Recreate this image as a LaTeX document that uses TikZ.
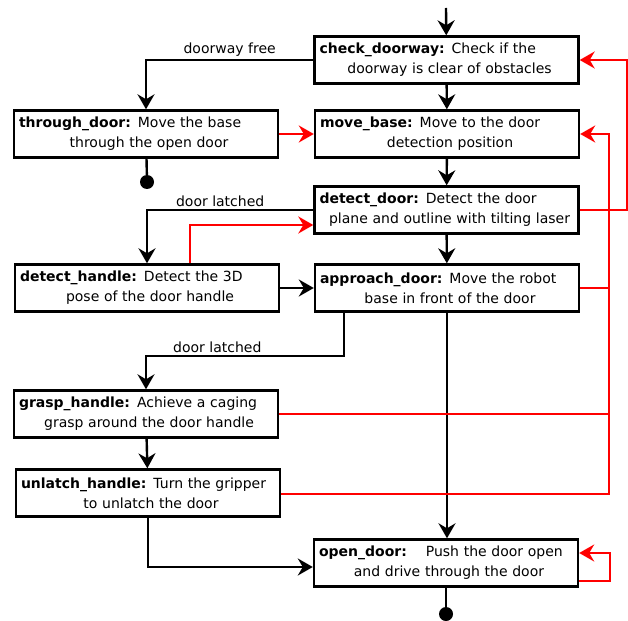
\documentclass[tikz,border=0pt]{standalone}
\usepackage{fontspec}
\setmainfont{DejaVu Sans}
\usetikzlibrary{arrows.meta,calc}
\newcommand{\statetext}[2]{\noindent #1\par{\centering\hspace*{6pt}#2\par}}

\begin{document}
\begin{tikzpicture}[x=1pt, y=-1pt,
        statenode/.style={rectangle, draw=black, line width=2.4pt, text width=254pt, inner xsep=5pt, inner ysep=2pt, minimum height=47pt, font=\fontsize{14pt}{20pt}\selectfont},
        endnode/.style={circle, fill=black, inner sep=0pt, minimum size=14pt},
        flow/.style={line width=2.4pt, -{Stealth[length=15pt, width=17pt, inset=5pt]}},
        fail/.style={line width=2pt, draw=red, -{Stealth[length=15pt, width=17pt, inset=5pt]}},
        lbl/.style={font=\fontsize{14pt}{17pt}\selectfont, inner sep=2pt}]
        \useasboundingbox (0, 0) rectangle (628, 620);
        \coordinate (start) at (446, 8);
        \node [statenode] at (446.5, 60) (check)    {\statetext{\textbf{check\_doorway:} Check if the}{doorway is clear of obstacles}};
        \node [statenode] at (447, 134)  (move)     {\statetext{\textbf{move\_base:} Move to the door}{detection position}};
        \node [statenode] at (446.5, 210) (detect)  {\statetext{\textbf{detect\_door:} Detect the door}{plane and outline with tilting laser}};
        \node [statenode] at (447, 288)  (approach) {\statetext{\textbf{approach\_door:} Move the robot}{base in front of the door}};
        \node [statenode] at (446, 563)  (open)     {\statetext{\textbf{open\_door:}\hspace{12pt} Push the door open}{and drive through the door}};
        \node [statenode] at (146, 134)  (through)  {\statetext{\textbf{through\_door:} Move the base}{through the open door}};
        \node [statenode] at (147, 288)  (handle)   {\statetext{\textbf{detect\_handle:} Detect the 3D}{pose of the door handle}};
        \node [statenode] at (146, 414)  (grasp)    {\statetext{\textbf{grasp\_handle:} Achieve a caging}{grasp around the door handle}};
        \node [statenode] at (148, 493)  (unlatch)  {\statetext{\textbf{unlatch\_handle:} Turn the gripper}{to unlatch the door}};
        \node [endnode] at (147, 182) (stopa) {};
        \node [endnode] at (446, 614) (stopb) {};
        \coordinate (bus) at (609, 288);

        % success transitions
        \draw[line width=2.4pt]
            (start) edge[flow] (check)
            (check) edge[flow] (move)
            (move) edge[flow] (detect)
            (detect) edge[flow] (approach)
            (handle) edge[flow] (approach)
            (grasp) edge[flow] (unlatch);
        \draw[flow] (approach.south) -- (approach.south |- open.north);
        \draw[flow] (check.west) -| node[lbl, above, pos=0.25] {doorway free} (through.north);
        \draw[flow] (detect.west) -| node[lbl, above, pos=0.28] {door latched} (handle.north);
        \draw[flow] ([xshift=-103pt]approach.south) -- ++(0, 43) -| node[lbl, above, pos=0.32] {door latched} (grasp.north);
        \draw[flow] (unlatch.south) |- ([yshift=-4pt]open.west);
        \draw[line width=2.4pt] (through) -- (stopa);
        \draw[line width=2.4pt] (open) -- (stopb);

        % failure transitions
        \draw[fail] (through) -- (move);
        \draw[fail] ([xshift=43pt]handle.north) |- ([yshift=-15pt]detect.west);
        \draw[fail] (detect.east) -- ++(47, 0) |- (check.east);
        \draw[fail] (approach.east) -- (bus) |- (move.east);
        \draw[fail, -] (grasp.east) -- (grasp.east -| bus);
        \draw[fail, -] ([yshift=-1pt]unlatch.east) -| (bus);
        \draw[fail] ([yshift=-18pt]open.east) -- ++(31, 0) |- ([yshift=10pt]open.east);
    \end{tikzpicture}
\end{document}
